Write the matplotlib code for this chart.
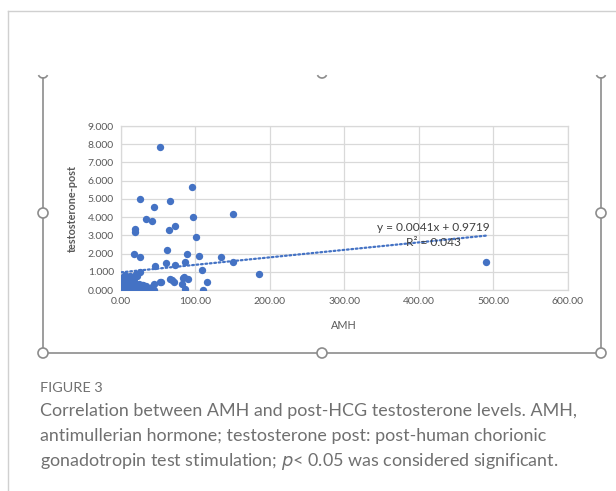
import matplotlib
matplotlib.use("Agg")
import matplotlib.pyplot as plt
from matplotlib.patches import Circle, Arc
import numpy as np

# ---------------- data ----------------
amh = [52, 96, 25, 66, 45, 150, 97, 34, 42, 72, 65, 19, 19, 101, 62, 17, 25, 89, 105,
       135, 150, 61, 72, 86, 46, 109, 185, 6, 25, 84, 90, 66, 71, 115, 82, 86, 110, 54,
       45, 39, 44, 30, 18, 17, 491, 68, 83, 52, 41,
       0.5, 1, 1.5, 2, 0.8, 3, 4, 5, 5, 6, 7, 8, 9, 10, 11, 12, 13, 14, 15, 16, 17, 18,
       19, 20, 21, 22, 23, 24, 26, 27, 28, 31, 33, 35, 3, 12, 20, 9, 2, 6]
testo = [7.87, 5.67, 4.98, 4.87, 4.56, 4.16, 4.00, 3.89, 3.76, 3.49, 3.31, 3.36, 3.18,
         2.89, 2.20, 1.96, 1.80, 1.96, 1.85, 1.80, 1.56, 1.50, 1.38, 1.56, 1.31, 1.09,
         0.87, 0.84, 1.00, 0.69, 0.58, 0.58, 0.45, 0.45, 0.33, 0.05, 0.00, 0.44, 0.31,
         0.04, 0.00, 0.27, 0.36, 0.73, 1.55, 0.55, 0.66, 0.46, 0.18,
         0.05, 0.15, 0.30, 0.45, 0.55, 0.10, 0.25, 0.05, 0.40, 0.60, 0.15, 0.30, 0.05,
         0.20, 0.45, 0.10, 0.30, 0.60, 0.15, 0.05, 0.25, 0.50, 0.10, 0.30, 0.75, 0.15,
         0.05, 0.35, 0.20, 0.10, 0.30, 0.15, 0.20, 0.10, 0.70, 0.75, 0.90, 0.65, 0.20, 0.10]
trend_slope = 0.0041
trend_intercept = 0.9719
eq_text = "y = 0.0041x + 0.9719"
r2_text = "R² = 0.043"
x_ticks = [0, 100, 200, 300, 400, 500, 600]
y_ticks = [0, 1, 2, 3, 4, 5, 6, 7, 8, 9]
x_label = "AMH"
y_label = "testosterone-post"
fig_label = "FIGURE 3"
caption_lines = [
    "Correlation between AMH and post-HCG testosterone levels. AMH,",
    "antimullerian hormone; testosterone post: post-human chorionic",
    "gonadotropin test stimulation; $\\it{p}$< 0.05 was considered significant.",
]

W, H = 616, 491
fig = plt.figure(figsize=(W / 100, H / 100), dpi=100)
fig.patch.set_facecolor("white")

# ---------- overlay in pixel coordinates ----------
ov = fig.add_axes([0, 0, 1, 1])
ov.set_xlim(0, W)
ov.set_ylim(H, 0)
ov.axis("off")
page = "#d0d0d0"
ov.plot([8, 8], [H, 11], color=page, lw=1)
ov.plot([8, W], [11, 11], color=page, lw=1)
frame = "#8c8c8c"
L, R, T, B = 43, 601, 78, 353
ov.plot([L, L], [T, B], color=frame, lw=1.2)
ov.plot([R, R], [T, B], color=frame, lw=1.2)
ov.plot([L, R], [B, B], color=frame, lw=1.2)
for (cx, cy) in [(L, 213), (R, 213), (L, B), (322, B), (R, B)]:
    ov.add_patch(Circle((cx, cy), 5, facecolor="white", edgecolor=frame, lw=1.2, zorder=5))
for cx in [L, 322, R]:
    ov.add_patch(Arc((cx, 73), 10, 10, theta1=25, theta2=155, color=frame, lw=1.2, zorder=5))

# caption
ov.text(40, 388, fig_label, fontsize=10.4, color="#707070", family="Lato",
        va="center", ha="left")
for i, line in enumerate(caption_lines):
    ov.text(40, 411 + i * 25.5, line, fontsize=12.85, color="#707070", family="Lato",
            va="center", ha="left")

# ---------------- chart ----------------
ax = fig.add_axes([121 / W, 1 - 290 / H, (567.5 - 121) / W, (290 - 126) / H])
ax.set_xlim(0, 600)
ax.set_ylim(0, 9)
ax.set_xticks(x_ticks)
ax.set_yticks(y_ticks)
ax.set_xticklabels([f"{v:.2f}" for v in x_ticks])
ax.set_yticklabels([f"{v:.3f}" for v in y_ticks])
ax.grid(True, color="#d9d9d9", lw=0.9)
ax.set_axisbelow(True)
for s in ax.spines.values():
    s.set_color("#d9d9d9")
    s.set_linewidth(0.9)
ax.tick_params(length=0, labelsize=7.5, labelcolor="#595959", pad=5)
for lab in ax.get_xticklabels() + ax.get_yticklabels():
    lab.set_family("Lato")

blue = "#4472C4"
ax.scatter(amh, testo, s=28, color=blue, zorder=3, linewidths=0)

xt = np.array([min(amh), max(amh)])
ax.plot(xt, trend_slope * xt + trend_intercept, color=blue, lw=1.6,
        linestyle=(0, (0.8, 1.2)), dash_capstyle="round", zorder=4)

ax.text(420, 3.45, eq_text, fontsize=8.6, color="#404040", ha="center", va="center",
        family="Lato", zorder=5)
ax.text(420, 2.6, r2_text, fontsize=8.6, color="#404040", ha="center", va="center",
        family="Lato", zorder=5)

ax.set_xlabel(x_label, fontsize=7.8, color="#595959", family="Lato", labelpad=10)
ax.set_ylabel(y_label, fontsize=7.8, color="#595959", family="Lato", labelpad=7,
              fontweight="bold")

fig.savefig("out.png", dpi=100, facecolor="white")
